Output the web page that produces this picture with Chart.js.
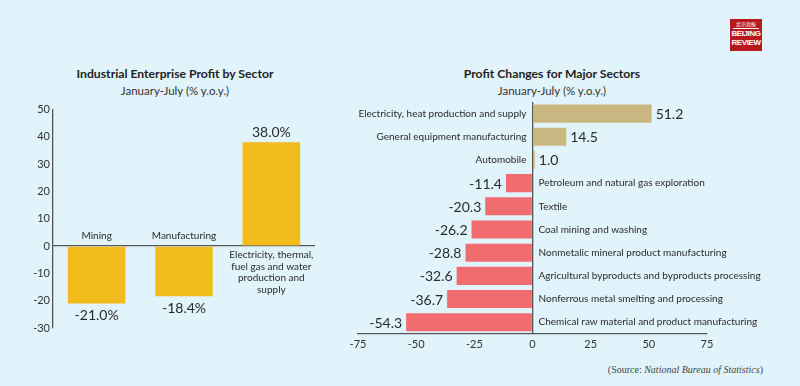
<!DOCTYPE html>
<html>
<head>
<meta charset="utf-8">
<script src="https://cdn.jsdelivr.net/npm/chart.js@4/dist/chart.umd.min.js"></script>
<style>
  body { margin: 0; width: 800px; height: 386px; background: #e1f3fb; position: relative; overflow: hidden; font-family: Lato, "Open Sans", sans-serif; color: #222; }
  .t { position: absolute; white-space: nowrap; transform: translateX(-50%); text-align: center; }
  .title { font-weight: bold; font-size: 12.2px; }
  .sub { font-size: 11.5px; color: #333; }
  canvas { position: absolute; }
  #logo { position: absolute; left: 730px; top: 19px; width: 32px; height: 32px; background: #b8191f; color: #fff; text-align: center; }
  #logo .cn { font-family: "Noto Sans CJK SC"; font-size: 5px; line-height: 6px; margin-top: 2px; border-bottom: 1px solid #fff; margin-left: 3px; margin-right: 3px; padding-bottom: 1px; }
  #logo .en { font-family: "Liberation Sans Narrow", "Liberation Sans"; font-weight: bold; font-size: 8px; line-height: 9px; letter-spacing: -0.4px; }
  #src { position: absolute; right: 37px; top: 364px; font-family: "Liberation Serif", "DejaVu Serif", serif; font-size: 10px; color: #444; }
</style>
</head>
<body>
<div class="t title" style="left:175px;top:66px">Industrial Enterprise Profit by Sector</div>
<div class="t sub" style="left:175px;top:84px">January-July (% y.o.y.)</div>
<div class="t title" style="left:552px;top:66px">Profit Changes for Major Sectors</div>
<div class="t sub" style="left:552px;top:84px">January-July (% y.o.y.)</div>
<div id="logo"><div class="cn">北京周报</div><div class="en">BEIJING<br>REVIEW</div></div>
<div id="src">(Source: <i>National Bureau of Statistics</i>)</div>

<canvas id="sectorChart" width="330" height="240" style="left:0;top:100px"></canvas>
<canvas id="majorChart" width="460" height="265" style="left:330px;top:95px"></canvas>

<script>
// 左图：三大门类
var sectorLabels = ['Mining', 'Manufacturing', ['Electricity, thermal,', 'fuel gas and water', 'production and', 'supply']];
var sectorValues = [-21.0, -18.4, 38.0];
var sectorTicks = { min: -30, max: 50, step: 10 };

// 右图：主要行业
var majorLabels = [
  'Electricity, heat production and supply',
  'General equipment manufacturing',
  'Automobile',
  'Petroleum and natural gas exploration',
  'Textile',
  'Coal mining and washing',
  'Nonmetalic mineral product manufacturing',
  'Agricultural byproducts and byproducts processing',
  'Nonferrous metal smelting and processing',
  'Chemical raw material and product manufacturing'
];
var majorValues = [51.2, 14.5, 1.0, -11.4, -20.3, -26.2, -28.8, -32.6, -36.7, -54.3];
var majorTicks = { min: -75, max: 75, step: 25 };

var FONT = 'Lato, "Open Sans", sans-serif';
var zeroLine = function (ctx) { return ctx.tick && ctx.tick.value === 0 ? '#555' : 'rgba(0,0,0,0)'; };

var sectorLabelPlugin = {
  id: 'sectorLabels',
  afterDatasetsDraw: function (chart) {
    var ctx = chart.ctx;
    var y0 = chart.scales.y.getPixelForValue(0);
    ctx.save();
    ctx.fillStyle = '#2a2a2a';
    ctx.textAlign = 'center';
    ctx.textBaseline = 'middle';
    chart.getDatasetMeta(0).data.forEach(function (bar, i) {
      var v = sectorValues[i];
      var lab = [].concat(sectorLabels[i]);
      ctx.font = '14px ' + FONT;
      if (v < 0) {
        ctx.fillText(v.toFixed(1) + '%', bar.x, bar.y + 12);
        ctx.font = '10px ' + FONT;
        ctx.fillText(lab[0], bar.x, y0 - 10);
      } else {
        ctx.fillText(v.toFixed(1) + '%', bar.x, bar.y - 10);
        ctx.font = '10px ' + FONT;
        lab.forEach(function (line, k) { ctx.fillText(line, bar.x, y0 + 9 + k * 11.5); });
      }
    });
    ctx.restore();
  }
};

var majorLabelPlugin = {
  id: 'majorLabels',
  afterDatasetsDraw: function (chart) {
    var ctx = chart.ctx;
    var x0 = chart.scales.x.getPixelForValue(0);
    ctx.save();
    ctx.fillStyle = '#2a2a2a';
    ctx.textBaseline = 'middle';
    chart.getDatasetMeta(0).data.forEach(function (bar, i) {
      var v = majorValues[i];
      if (v >= 0) {
        ctx.font = '14px ' + FONT;
        ctx.textAlign = 'left';
        ctx.fillText(v.toFixed(1), bar.x + 4, bar.y + 1);
        ctx.font = '10px ' + FONT;
        ctx.textAlign = 'right';
        ctx.fillText(majorLabels[i], x0 - 6, bar.y);
      } else {
        ctx.font = '14px ' + FONT;
        ctx.textAlign = 'right';
        ctx.fillText(v.toFixed(1), bar.x - 4, bar.y + 1);
        ctx.font = '10px ' + FONT;
        ctx.textAlign = 'left';
        ctx.fillText(majorLabels[i], x0 + 6, bar.y);
      }
    });
    ctx.restore();
  }
};

new Chart(document.getElementById('sectorChart'), {
  type: 'bar',
  data: {
    labels: sectorLabels,
    datasets: [{ data: sectorValues, backgroundColor: '#f2bd1c', categoryPercentage: 1, barPercentage: 0.66 }]
  },
  options: {
    responsive: false,
    animation: false,
    layout: { padding: { top: 8, right: 15, bottom: 12, left: 0 } },
    plugins: { legend: { display: false }, tooltip: { enabled: false } },
    scales: {
      x: { display: false },
      y: {
        min: sectorTicks.min, max: sectorTicks.max,
        ticks: { stepSize: sectorTicks.step, color: '#333', padding: 3, font: { size: 11, family: FONT } },
        grid: { drawTicks: false, color: zeroLine, lineWidth: 1.3 },
        border: { color: '#555', width: 1.3 },
        afterFit: function (s) { s.width = 53; }
      }
    }
  },
  plugins: [sectorLabelPlugin]
});

new Chart(document.getElementById('majorChart'), {
  type: 'bar',
  data: {
    labels: majorLabels,
    datasets: [{
      data: majorValues,
      backgroundColor: majorValues.map(function (v) { return v >= 0 ? '#c9b680' : '#f06c6e'; }),
      categoryPercentage: 1, barPercentage: 0.78
    }]
  },
  options: {
    indexAxis: 'y',
    responsive: false,
    animation: false,
    layout: { padding: { top: 7, right: 83, bottom: 5, left: 28 } },
    plugins: { legend: { display: false }, tooltip: { enabled: false } },
    scales: {
      y: { display: false },
      x: {
        min: majorTicks.min, max: majorTicks.max,
        ticks: { stepSize: majorTicks.step, color: '#333', padding: 4, font: { size: 11, family: FONT } },
        grid: { drawTicks: false, color: zeroLine, lineWidth: 1.3 },
        border: { color: '#555', width: 1.3 }
      }
    }
  },
  plugins: [majorLabelPlugin]
});
</script>
</body>
</html>
